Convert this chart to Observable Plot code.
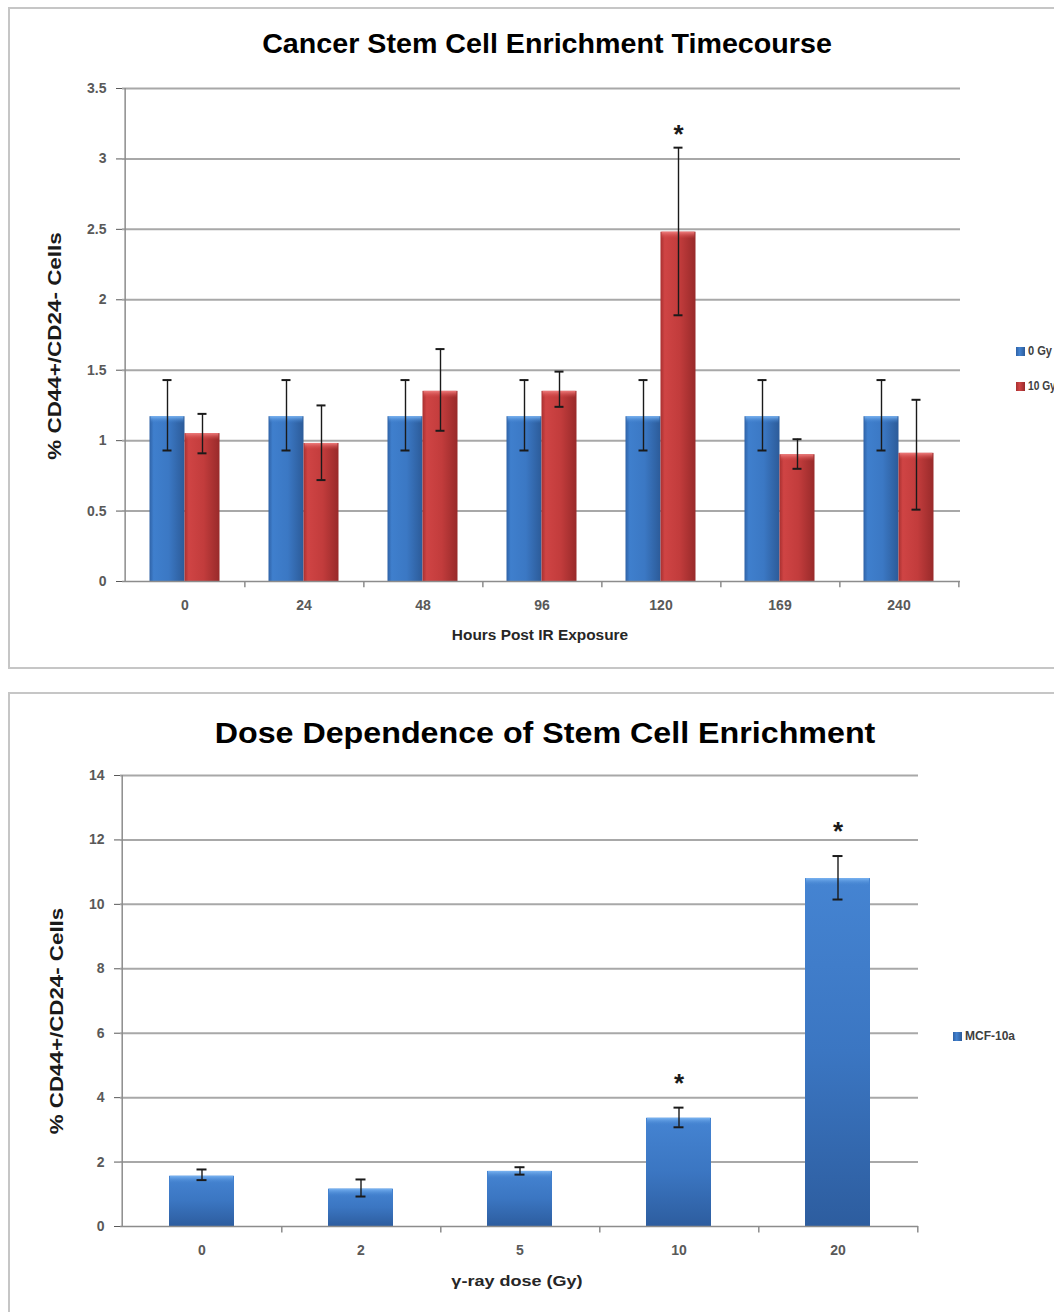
<!DOCTYPE html>
<html><head><meta charset="utf-8">
<script src="https://cdn.jsdelivr.net/npm/d3@7"></script>
<script src="https://cdn.jsdelivr.net/npm/@observablehq/plot@0.6"></script>
<style>
body{margin:0;background:#fff;width:1054px;height:1312px;overflow:hidden;position:relative;font-family:"Liberation Sans",Arial,sans-serif;}
.abs{position:absolute;white-space:nowrap;}
.panel{position:absolute;border:2px solid #c6c6c6;box-sizing:border-box;pointer-events:none;}
.sw{position:absolute;width:9px;height:9px;}
.lg{position:absolute;font-size:12px;font-weight:bold;color:#404040;white-space:nowrap;transform-origin:0 50%;}
svg{position:absolute;left:0;}
</style></head><body>
<script>
// ---------- data: top chart ----------
const hours = ["0","24","48","96","120","169","240"];
const seriesTop = ["0 Gy","10 Gy"];
const gy0   = [1.17,1.17,1.17,1.17,1.17,1.17,1.17];
const gy0Lo = [0.93,0.93,0.93,0.93,0.93,0.93,0.93];
const gy0Hi = [1.43,1.43,1.43,1.43,1.43,1.43,1.43];
const gy10   = [1.05,0.98,1.35,1.35,2.48,0.90,0.91];
const gy10Lo = [0.91,0.72,1.07,1.24,1.89,0.80,0.51];
const gy10Hi = [1.19,1.25,1.65,1.49,3.08,1.01,1.29];
const timeSig = ["120"];
const yTicksTop = [0,0.5,1,1.5,2,2.5,3,3.5];

// ---------- data: bottom chart ----------
const doses = ["0","2","5","10","20"];
const seriesBottom = ["MCF-10a"];
const mcf   = [1.56,1.16,1.71,3.36,10.8];
const mcfLo = [1.44,0.93,1.61,3.08,10.15];
const mcfHi = [1.77,1.46,1.84,3.69,11.5];
const doseSig = ["10","20"];
const yTicksBottom = [0,2,4,6,8,10,12,14];

const BLUE = "#3c78c3", RED = "#c03b3b", HLB = "#5a9be5", HLR = "#e06a6a";
const GRID = "#a8a8a8", AXIS = "#8c8c8c";
const FONT = '"Liberation Sans",Arial,sans-serif';

function addDefs(svg){
  const ns = "http://www.w3.org/2000/svg";
  const defs = document.createElementNS(ns,"defs");
  defs.innerHTML = `
  <linearGradient id="gBlue" x1="0" y1="0" x2="1" y2="0">
    <stop offset="0" stop-color="#2f62a6"/><stop offset="0.12" stop-color="#3f7fcd"/>
    <stop offset="0.55" stop-color="#3b78c4"/><stop offset="1" stop-color="#2c5b99"/></linearGradient>
  <linearGradient id="gRed" x1="0" y1="0" x2="1" y2="0">
    <stop offset="0" stop-color="#a83030"/><stop offset="0.12" stop-color="#cf4444"/>
    <stop offset="0.55" stop-color="#c23c3c"/><stop offset="1" stop-color="#982a2a"/></linearGradient>
  <linearGradient id="gBlueV" x1="0" y1="0" x2="0" y2="1">
    <stop offset="0" stop-color="#4584d2"/>
    <stop offset="0.5" stop-color="#3b76c2"/><stop offset="1" stop-color="#2d5d9f"/></linearGradient>
  <linearGradient id="hlB" x1="0" y1="0" x2="0" y2="1">
    <stop offset="0" stop-color="#7ab4f2"/><stop offset="1" stop-color="#3f7fcd" stop-opacity="0"/></linearGradient>
  <linearGradient id="hlR" x1="0" y1="0" x2="0" y2="1">
    <stop offset="0" stop-color="#ee7d7d"/><stop offset="1" stop-color="#cf4444" stop-opacity="0"/></linearGradient>`;
  svg.insertBefore(defs, svg.firstChild);
}
function swapFill(svg, from, to){
  svg.querySelectorAll(`[fill="${from}"]`).forEach(n=>n.setAttribute("fill", to));
}
function fixTickFont(svg){
  svg.querySelectorAll("text").forEach(t=>{
    if (t.textContent !== "*"){ t.setAttribute("font-size","14"); t.style.fontSize="14px"; }
  });
}
function addText(txt, x, y, fs, target, color, rotate){
  const d = document.createElement("div");
  d.className = "abs";
  d.textContent = txt;
  d.style.left = x+"px"; d.style.top = y+"px";
  d.style.fontSize = fs+"px"; d.style.fontWeight = "bold";
  d.style.color = color;
  d.style.lineHeight = "1";
  document.body.appendChild(d);
  const w = d.offsetWidth;
  const sx = target/w;
  d.style.transform = `translate(-50%,-50%)${rotate ? " rotate(-90deg)" : ""} scaleX(${sx})`;
  return d;
}

// ---------- top chart ----------
const W = 1054;
const topData = hours.flatMap((h,i)=>[
  {hour:h, series:seriesTop[0], value:gy0[i], lo:gy0Lo[i], hi:gy0Hi[i]},
  {hour:h, series:seriesTop[1], value:gy10[i], lo:gy10Lo[i], hi:gy10Hi[i]}
]);
const tML=122, tMR=94, tMT=88, tH=670, tMB=89;
const tStep = (W-tML-tMR)/hours.length;
const tBar = 35;
const half = tBar/2;
const capIn = (tBar-9)/2;
const b0 = topData.filter(d=>d.series===seriesTop[0]);
const b10 = topData.filter(d=>d.series===seriesTop[1]);
const ink = "#1a1a1a";
const topPlot = Plot.plot({
  width: W, height: tH,
  marginLeft: tML, marginRight: tMR, marginTop: tMT, marginBottom: tMB,
  style:{fontFamily:FONT, fontSize:"14px", fontWeight:"bold", color:"#595959", background:"transparent", overflow:"visible"},
  x:{domain:hours, paddingInner:1-tBar/tStep, paddingOuter:(1-tBar/tStep)/2, tickSize:0, tickPadding:19, label:null},
  y:{domain:[0,3.5], ticks:yTicksTop, tickSize:6, tickPadding:10, label:null, tickFormat:d=>String(d)},
  marks:[
    Plot.ruleY(yTicksTop.filter(d=>d>0), {stroke:GRID, strokeWidth:2}),
    Plot.barY(b0, {x:"hour", y:"value", dx:-half, fill:BLUE}),
    Plot.barY(b10, {x:"hour", y:"value", dx:half, fill:RED}),
    Plot.barY(b0, {x:"hour", y1:"value", y2:"value", insetBottom:-7, insetLeft:1, insetRight:1, dx:-half, fill:HLB}),
    Plot.barY(b10, {x:"hour", y1:"value", y2:"value", insetBottom:-7, insetLeft:1, insetRight:1, dx:half, fill:HLR}),
    Plot.ruleX(b0, {x:"hour", y1:"lo", y2:"hi", dx:-half, stroke:ink, strokeWidth:1.4}),
    Plot.ruleX(b10, {x:"hour", y1:"lo", y2:"hi", dx:half, stroke:ink, strokeWidth:1.4}),
    Plot.tickY(b0, {x:"hour", y:"hi", dx:-half, insetLeft:capIn, insetRight:capIn, stroke:ink, strokeWidth:2}),
    Plot.tickY(b0, {x:"hour", y:"lo", dx:-half, insetLeft:capIn, insetRight:capIn, stroke:ink, strokeWidth:2}),
    Plot.tickY(b10, {x:"hour", y:"hi", dx:half, insetLeft:capIn, insetRight:capIn, stroke:ink, strokeWidth:2}),
    Plot.tickY(b10, {x:"hour", y:"lo", dx:half, insetLeft:capIn, insetRight:capIn, stroke:ink, strokeWidth:2}),
    Plot.text(b10.filter(d=>timeSig.includes(d.hour)), {x:"hour", y:"hi", text:()=>"*", dx:half, dy:-13, fontSize:26, fontWeight:"bold", fill:ink}),
    Plot.ruleY([0], {stroke:AXIS, strokeWidth:1.5}),
    Plot.ruleX([hours[0]], {x:d=>d, dx:-tStep/2, y1:0, y2:3.5, stroke:AXIS, strokeWidth:1.5}),
    Plot.ruleX(hours, {x:d=>d, dx:tStep/2, y1:0, y2:-0.045, stroke:AXIS, strokeWidth:1.5})
  ]
});
topPlot.style.top = "0px";
addDefs(topPlot);
swapFill(topPlot, BLUE, "url(#gBlue)");
swapFill(topPlot, RED, "url(#gRed)");
swapFill(topPlot, HLB, "url(#hlB)");
swapFill(topPlot, HLR, "url(#hlR)");
fixTickFont(topPlot);
document.body.appendChild(topPlot);

// ---------- bottom chart ----------
const botData = doses.map((d,i)=>({dose:d, value:mcf[i], lo:mcfLo[i], hi:mcfHi[i]}));
const bTop = 693, bML=120, bMR=136, bMT=82, bMB=86, bH=1312-693;
const bStep = (W-bML-bMR)/doses.length;
const bBar = 65;
const bCap = (bBar-10)/2;
const botPlot = Plot.plot({
  width: W, height: bH,
  marginLeft: bML, marginRight: bMR, marginTop: bMT, marginBottom: bMB,
  style:{fontFamily:FONT, fontSize:"14px", fontWeight:"bold", color:"#595959", background:"transparent", overflow:"visible"},
  x:{domain:doses, paddingInner:1-bBar/bStep, paddingOuter:(1-bBar/bStep)/2, tickSize:0, tickPadding:19, label:null},
  y:{domain:[0,14], ticks:yTicksBottom, tickSize:6, tickPadding:10, label:null},
  marks:[
    Plot.ruleY(yTicksBottom.filter(d=>d>0), {stroke:GRID, strokeWidth:2}),
    Plot.barY(botData, {x:"dose", y:"value", fill:BLUE}),
    Plot.barY(botData, {x:"dose", y1:"value", y2:"value", insetBottom:-8, insetLeft:1, insetRight:1, fill:HLB}),
    Plot.ruleX(botData, {x:"dose", y1:"lo", y2:"hi", stroke:ink, strokeWidth:1.4}),
    Plot.tickY(botData, {x:"dose", y:"hi", insetLeft:bCap, insetRight:bCap, stroke:ink, strokeWidth:2}),
    Plot.tickY(botData, {x:"dose", y:"lo", insetLeft:bCap, insetRight:bCap, stroke:ink, strokeWidth:2}),
    Plot.text(botData.filter(d=>doseSig.includes(d.dose)), {x:"dose", y:"hi", text:()=>"*", dy:-24, fontSize:26, fontWeight:"bold", fill:ink}),
    Plot.ruleY([0], {stroke:AXIS, strokeWidth:1.5}),
    Plot.ruleX([doses[0]], {x:d=>d, dx:-bStep/2, y1:0, y2:14, stroke:AXIS, strokeWidth:1.5}),
    Plot.ruleX(doses, {x:d=>d, dx:bStep/2, y1:0, y2:-0.2, stroke:AXIS, strokeWidth:1.5})
  ]
});
botPlot.style.top = bTop+"px";
addDefs(botPlot);
swapFill(botPlot, BLUE, "url(#gBlueV)");
swapFill(botPlot, HLB, "url(#hlB)");
fixTickFont(botPlot);
document.body.appendChild(botPlot);

// ---------- texts ----------
addText("Cancer Stem Cell Enrichment Timecourse", 547, 44, 27, 570, "#000");
addText("Dose Dependence of Stem Cell Enrichment", 545, 733, 29, 661, "#000");
addText("% CD44+/CD24- Cells", 55, 346, 18, 228, "#1a1a1a", true);
addText("% CD44+/CD24- Cells", 57, 1021, 18, 227, "#1a1a1a", true);
addText("Hours Post IR Exposure", 540, 635, 14, 176, "#262626");
addText("\u03b3-ray dose (Gy)", 517, 1280, 15, 131, "#262626");

// ---------- legends ----------
function legend(x, y, grad, label, target){
  const s = document.createElement("div");
  s.className = "sw"; s.style.left = x+"px"; s.style.top = (y-4.5)+"px";
  s.style.background = grad;
  document.body.appendChild(s);
  const t = document.createElement("div");
  t.className = "lg"; t.textContent = label;
  t.style.left = (x+12)+"px"; t.style.top = y+"px"; t.style.lineHeight="1";
  document.body.appendChild(t);
  const w = t.offsetWidth;
  t.style.transform = `translateY(-50%) scaleX(${target/w})`;
}
const gB = "linear-gradient(90deg,#2f62a6,#4282d0 40%,#2c5b99)";
const gR = "linear-gradient(90deg,#a83030,#cf4444 40%,#982a2a)";
legend(1016, 351, gB, seriesTop[0], 24);
legend(1016, 386, gR, seriesTop[1], 28);
legend(953, 1036, gB, seriesBottom[0], 50);

// ---------- panel borders ----------
function panel(l,t,w,h){
  const p = document.createElement("div");
  p.className = "panel";
  p.style.left=l+"px"; p.style.top=t+"px"; p.style.width=w+"px"; p.style.height=h+"px";
  document.body.appendChild(p);
}
panel(8, 7, 1060, 662);
panel(8, 692, 1060, 640);
</script>
</body></html>
